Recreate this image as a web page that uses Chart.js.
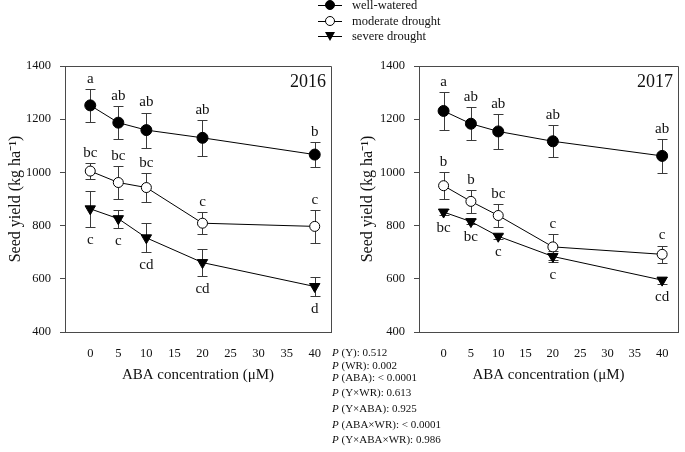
<!DOCTYPE html>
<html>
<head>
<meta charset="utf-8">
<script src="https://cdn.jsdelivr.net/npm/chart.js@4"></script>
<style>
  body { margin: 0; width: 685px; height: 452px; background: #fff; position: relative; overflow: hidden;
         font-family: "Liberation Serif", "Times New Roman", serif; color: #111; }
  canvas { position: absolute; top: 0; }
  #c2016 { left: 0; }
  #c2017 { left: 340px; }
  .leg { position: absolute; left: 318px; height: 16px; line-height: 16px; font-size: 12.5px; white-space: nowrap; }
  .leg .ln { position: absolute; left: 0; top: 8px; width: 24px; height: 1px; background: #000; }
  .leg .mk { position: absolute; box-sizing: border-box; }
  .leg .txt { position: absolute; left: 34px; top: 0; }
  .pv { position: absolute; left: 332px; font-size: 11px; line-height: 14px; white-space: nowrap; }
</style>
</head>
<body>
<canvas id="c2016" width="340" height="385"></canvas>
<canvas id="c2017" width="345" height="385"></canvas>
<div id="legend"></div>
<div id="pvals"></div>
<script>
// data
var xValues = [0, 5, 10, 20, 40];
var xTicks = [0, 5, 10, 15, 20, 25, 30, 35, 40];
var yTicks = [400, 600, 800, 1000, 1200, 1400];
var seriesNames = ["well-watered", "moderate drought", "severe drought"];

var well2016 = [1252, 1187, 1159, 1130, 1067];
var wellErr2016 = [62, 61, 66, 67, 46];
var mod2016 = [1005, 962, 943, 809, 797];
var modErr2016 = [29, 62, 54, 42, 63];
var sev2016 = [863, 826, 754, 661, 571];
var sevErr2016 = [68, 34, 55, 52, 37];

var well2017 = [1231, 1183, 1154, 1117, 1062];
var wellErr2017 = [70, 62, 65, 60, 65];
var mod2017 = [950, 891, 838, 720, 692];
var modErr2017 = [50, 43, 44, 50, 33];
var sev2017 = [851, 815, 760, 684, 595];
var sevErr2017 = [10, 10, 10, 20, 13];

var wellLetters2016 = ["a", "ab", "ab", "ab", "b"];
var modLetters2016 = ["bc", "bc", "bc", "c", "c"];
var sevLetters2016 = ["c", "c", "cd", "cd", "d"];
var wellLetters2017 = ["a", "ab", "ab", "ab", "ab"];
var modLetters2017 = ["b", "b", "bc", "c", "c"];
var sevLetters2017 = ["bc", "bc", "c", "c", "cd"];

var pValues = [
  ["(Y): 0.512"], ["(WR): 0.002"], ["(ABA): < 0.0001"], ["(Y\u00d7WR): 0.613"],
  ["(Y\u00d7ABA): 0.925"], ["(ABA\u00d7WR): < 0.0001"], ["(Y\u00d7ABA\u00d7WR): 0.986"]
];

var SERIF = "'Liberation Serif', 'Times New Roman', serif";
var AXIS = "#4a4a4a";

function pts(vals) {
  return vals.map(function (v, i) { return { x: xValues[i], y: v }; });
}

// error bars, letters, frame and year label
function panelPlugin(year, errs, letters, sides) {
  return {
    id: "panel" + year,
    beforeDatasetsDraw: function (chart) {
      var ctx = chart.ctx, xs = chart.scales.x, ys = chart.scales.y;
      ctx.save();
      ctx.strokeStyle = "#3a3a3a";
      ctx.lineWidth = 1;
      errs.forEach(function (e, i) {
        chart.data.datasets[i].data.forEach(function (p, j) {
          var px = Math.round(xs.getPixelForValue(p.x)) + 0.5;
          var t = Math.round(ys.getPixelForValue(p.y + e[j])) + 0.5;
          var b = Math.round(ys.getPixelForValue(p.y - e[j])) + 0.5;
          ctx.beginPath();
          ctx.moveTo(px, t); ctx.lineTo(px, b);
          ctx.moveTo(px - 5, t); ctx.lineTo(px + 5, t);
          ctx.moveTo(px - 5, b); ctx.lineTo(px + 5, b);
          ctx.stroke();
        });
      });
      ctx.restore();
    },
    afterDraw: function (chart) {
      var ctx = chart.ctx, xs = chart.scales.x, ys = chart.scales.y, a = chart.chartArea;
      ctx.save();
      ctx.strokeStyle = AXIS;
      ctx.lineWidth = 1;
      ctx.beginPath();
      ctx.moveTo(Math.round(a.left), Math.round(a.top) + 0.5);
      ctx.lineTo(Math.round(a.right) + 0.5, Math.round(a.top) + 0.5);
      ctx.lineTo(Math.round(a.right) + 0.5, Math.round(a.bottom));
      ctx.stroke();

      ctx.fillStyle = "#111";
      ctx.font = "15px " + SERIF;
      ctx.textAlign = "center";
      ctx.textBaseline = "middle";
      letters.forEach(function (l, i) {
        chart.data.datasets[i].data.forEach(function (p, j) {
          var px = xs.getPixelForValue(p.x);
          if (sides[i] === "above") {
            ctx.fillText(l[j], px, ys.getPixelForValue(p.y + errs[i][j]) - 10);
          } else {
            ctx.fillText(l[j], px, ys.getPixelForValue(p.y - errs[i][j]) + 13);
          }
        });
      });

      ctx.font = "18px " + SERIF;
      ctx.textAlign = "right";
      ctx.fillText(year, a.right - 5, a.top + 16);
      ctx.restore();
    }
  };
}

function makeChart(id, year, well, mod, sev, errs, letters, padLeft, padRight, yWidth) {
  var ctx = document.getElementById(id).getContext("2d");
  new Chart(ctx, {
    type: "line",
    data: {
      datasets: [
        {
          label: seriesNames[0], data: pts(well),
          borderColor: "#000", borderWidth: 1,
          pointStyle: "circle", pointRadius: 5.5, pointBackgroundColor: "#000", pointBorderColor: "#000",
        },
        {
          label: seriesNames[1], data: pts(mod),
          borderColor: "#000", borderWidth: 1,
          pointStyle: "circle", pointRadius: 5, pointBackgroundColor: "#fff", pointBorderColor: "#000", pointBorderWidth: 1,
        },
        {
          label: seriesNames[2], data: pts(sev),
          borderColor: "#000", borderWidth: 1,
          pointStyle: "triangle", pointRotation: 180, pointRadius: 6, pointBackgroundColor: "#000", pointBorderColor: "#000",
        },
      ],
    },
    options: {
      responsive: false,
      animation: false,
      layout: { padding: { left: padLeft, right: padRight, top: 66, bottom: 0 } },
      plugins: { legend: { display: false }, tooltip: { enabled: false } },
      scales: {
        x: {
          type: "linear", min: -4.5, max: 42.9,
          afterBuildTicks: function (s) { s.ticks = xTicks.map(function (v) { return { value: v }; }); },
          afterFit: function (s) { s.height = 53; },
          grid: { display: false },
          border: { display: true, color: AXIS, width: 1 },
          ticks: { padding: 6, color: "#111", font: { family: SERIF, size: 12.5 }, callback: function (v) { return String(v); } },
          title: { display: true, text: "ABA concentration (\u03bcM)", color: "#111", padding: { top: 4, bottom: 1 }, font: { family: SERIF, size: 15 } },
        },
        y: {
          min: 400, max: 1400,
          afterBuildTicks: function (s) { s.ticks = yTicks.map(function (v) { return { value: v }; }); },
          afterFit: function (s) { s.width = yWidth; },
          grid: { drawOnChartArea: false, drawTicks: true, tickLength: 5, color: AXIS },
          border: { display: true, color: AXIS, width: 1 },
          ticks: { padding: 9, color: "#111", font: { family: SERIF, size: 12.5 }, callback: function (v) { return String(v); } },
          title: { display: true, text: "Seed yield (kg ha\u207b\u00b9)", color: "#111", padding: { top: 6, bottom: 0 }, font: { family: SERIF, size: 16 } },
        },
      },
    },
    plugins: [panelPlugin(year, errs, letters, ["above", "above", "below"])],
  });
}

makeChart("c2016", "2016", well2016, mod2016, sev2016,
  [wellErr2016, modErr2016, sevErr2016], [wellLetters2016, modLetters2016, sevLetters2016], 0, 9, 65);
makeChart("c2017", "2017", well2017, mod2017, sev2017,
  [wellErr2017, modErr2017, sevErr2017], [wellLetters2017, modLetters2017, sevLetters2017], 12, 2, 67);

// legend
var legTops = [5, 20.5, 36];
var legend = document.getElementById("legend");
seriesNames.forEach(function (name, i) {
  var row = document.createElement("div");
  row.className = "leg";
  row.style.top = (legTops[i] - 8) + "px";
  var mk;
  if (i === 2) {
    mk = '<div class="mk" style="left:7px;top:4px;width:0;height:0;border-left:5px solid transparent;border-right:5px solid transparent;border-top:9px solid #000;"></div>';
  } else {
    mk = '<div class="mk" style="left:7px;top:3px;width:10px;height:10px;border-radius:50%;border:1px solid #000;background:' + (i === 0 ? "#000" : "#fff") + ';"></div>';
  }
  row.innerHTML = '<div class="ln"></div>' + mk + '<span class="txt">' + name + "</span>";
  legend.appendChild(row);
});

// P values
var pTops = [352, 365, 377, 392, 408, 424, 439];
var pv = document.getElementById("pvals");
pValues.forEach(function (t, i) {
  var d = document.createElement("div");
  d.className = "pv";
  d.style.top = (pTops[i] - 7) + "px";
  d.innerHTML = "<i>P</i> " + t[0].replace(/</g, "&lt;");
  pv.appendChild(d);
});
</script>
</body>
</html>
